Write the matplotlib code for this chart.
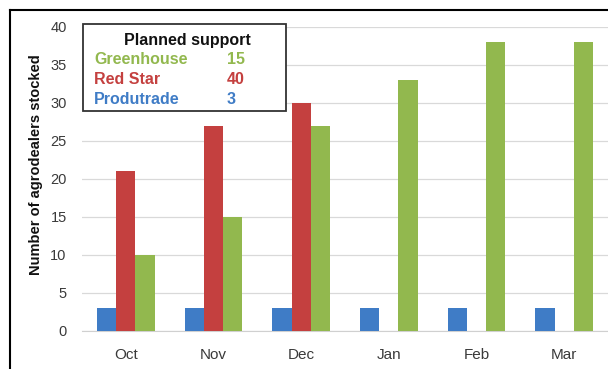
import matplotlib
matplotlib.use("Agg")
import matplotlib.pyplot as plt
import numpy as np
from matplotlib.patches import Rectangle
from matplotlib.lines import Line2D

plt.rcParams["font.family"] = ["Liberation Sans", "DejaVu Sans"]

months = ["Oct", "Nov", "Dec", "Jan", "Feb", "Mar"]
produtrade = [3, 3, 3, 3, 3, 3]
red_star = [21, 27, 30, 0, 0, 0]
greenhouse = [10, 15, 27, 33, 38, 38]
yticks = [0, 5, 10, 15, 20, 25, 30, 35, 40]
planned_names = ["Greenhouse", "Red Star", "Produtrade"]
planned_values = [15, 40, 3]

c_blue = "#3f7cc6"
c_red = "#c4403f"
c_green = "#92b84e"

fig = plt.figure(figsize=(6.08, 3.69), dpi=100)
W, H = 608, 369
ax = fig.add_axes([82 / W, 38 / H, (608 - 82) / W, (342 - 38) / H])

x = np.arange(len(months))
w = 0.22
ax.bar(x - w, produtrade, w, color=c_blue, zorder=3)
ax.bar(x, red_star, w, color=c_red, zorder=3)
ax.bar(x + w, greenhouse, w, color=c_green, zorder=3)

ax.set_xlim(-0.5, len(months) - 0.5)
ax.set_ylim(0, 40)
ax.set_yticks(yticks)
ax.set_xticks(x)
ax.set_xticklabels(months)
ax.tick_params(axis="both", length=0, labelsize=10.5, colors="#3a3a3a")
ax.tick_params(axis="x", labelsize=11)
ax.tick_params(axis="y", pad=11)
ax.tick_params(axis="x", pad=12)
ax.yaxis.grid(True, color="#d9d9d9", linewidth=0.9, zorder=0)
for s in ["top", "right", "left"]:
    ax.spines[s].set_visible(False)
ax.spines["bottom"].set_color("#d0d0d0")
ax.set_ylabel("Number of agrodealers stocked", fontsize=10.5, fontweight="bold",
              color="#111111")
ax.yaxis.set_label_coords((43 - 82) / (608 - 82), (331 - 165) / (331 - 27))

def fx(px):
    return px / W
def fy(py):
    return 1 - py / H

fig.patches.append(Rectangle((fx(83), fy(111)), fx(286) - fx(83), fy(24) - fy(111),
                             transform=fig.transFigure, facecolor="white",
                             edgecolor="#333333", linewidth=1.3, zorder=5))
fig.text(fx(187), fy(40), "Planned support", ha="center", va="center",
         fontsize=11.5, fontweight="bold", color="#111111", zorder=6)
cols = [c_green, c_red, c_blue]
for i, (n, v) in enumerate(zip(planned_names, planned_values)):
    yy = fy(59 + 20.5 * i)
    fig.text(fx(94), yy, n, ha="left", va="center", fontsize=11.5,
             color=cols[i], zorder=6, fontweight="bold")
    fig.text(fx(227), yy, str(v), ha="left", va="center", fontsize=11.5,
             fontweight="bold", color=cols[i], zorder=6)

fig.add_artist(Line2D([fx(10), fx(10)], [0, fy(10)], transform=fig.transFigure,
                      color="black", linewidth=1.5))
fig.add_artist(Line2D([fx(10), 1], [fy(10), fy(10)], transform=fig.transFigure,
                      color="black", linewidth=1.5))

fig.savefig("out.png", dpi=100)
